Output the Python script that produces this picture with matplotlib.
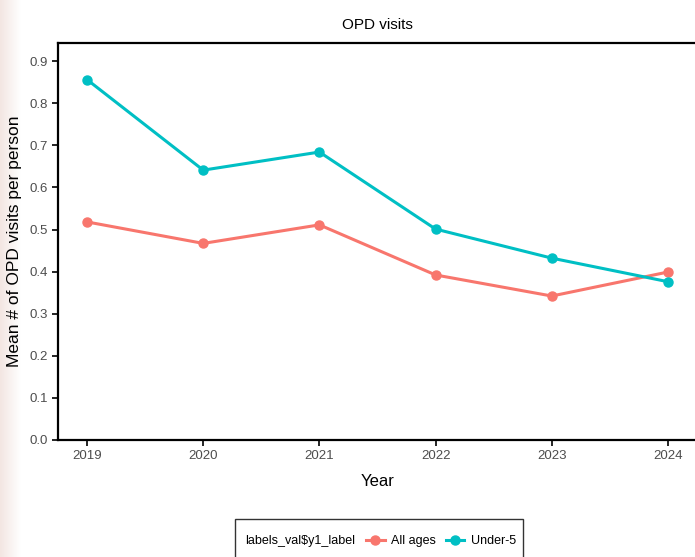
import numpy as np
import matplotlib.pyplot as plt
from matplotlib.patches import Rectangle

plt.rcParams['font.family'] = ['Liberation Sans', 'DejaVu Sans']

# datos
years = [2019, 2020, 2021, 2022, 2023, 2024]
all_ages = [0.518, 0.467, 0.511, 0.392, 0.342, 0.399]
under5 = [0.856, 0.641, 0.684, 0.501, 0.432, 0.376]
yticks = [0.0, 0.1, 0.2, 0.3, 0.4, 0.5, 0.6, 0.7, 0.8, 0.9]

red = '#F8766D'
teal = '#00BFC4'

fig = plt.figure(figsize=(6.95, 5.57), dpi=100)

# franja rosada a la izquierda
bg = fig.add_axes([0, 0, 0.03, 1])
grad = np.linspace(1, 0, 50).reshape(1, -1)
bg.imshow(grad, aspect='auto', cmap=plt.matplotlib.colors.LinearSegmentedColormap.from_list(
    'p', ['white', '#F3E6E2']), extent=[0, 1, 0, 1])
bg.axis('off')

ax = fig.add_axes([58 / 695, 117 / 557, 639 / 695, 397 / 557])
ax.plot(years, all_ages, color=red, lw=2.2, marker='o', ms=6.5, label='All ages')
ax.plot(years, under5, color=teal, lw=2.2, marker='o', ms=6.5, label='Under-5')

ax.set_xlim(2018.75, 2024.25)
ax.set_ylim(0, 0.943)
ax.set_xticks(years)
ax.set_yticks(yticks)
ax.set_yticklabels(['%.1f' % v for v in yticks])
for s in ax.spines.values():
    s.set_linewidth(1.6)
    s.set_color('black')
ax.tick_params(colors='#4D4D4D', labelsize=9.5, length=4, width=1.2)
ax.tick_params(axis='both', color='black')

ax.set_title('OPD visits', fontsize=11, pad=10)
ax.set_xlabel('Year', fontsize=12, labelpad=8)
ax.set_ylabel('Mean # of OPD visits per person', fontsize=12.5, labelpad=5)

# leyenda: marco, titulo y entradas
fig.patches.append(Rectangle((235 / 695, -0.02), 288 / 695, 38 / 557 + 0.02,
                             transform=fig.transFigure, fill=False,
                             edgecolor='#333333', linewidth=1.0))
fig.text(245 / 695, 16 / 557, 'labels_val$y1_label', fontsize=9,
         va='center', ha='left')
handles, labels = ax.get_legend_handles_labels()
leg = fig.legend(handles, labels, ncol=2, loc='center left',
                 bbox_to_anchor=(357 / 695, 16 / 557), frameon=False,
                 fontsize=9, handlelength=1.5, handletextpad=0.5,
                 columnspacing=0.8, borderpad=0.2)

fig.savefig('out.png', dpi=100)
